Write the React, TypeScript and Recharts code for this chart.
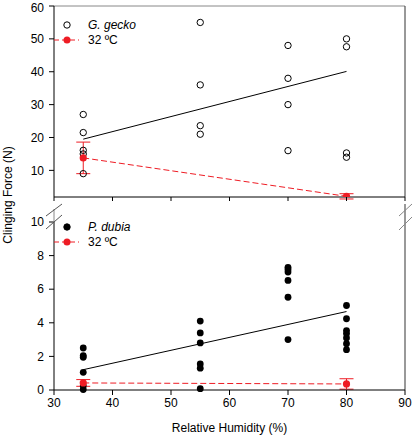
import React from "react";
import {
  ComposedChart,
  Scatter,
  Line,
  XAxis,
  YAxis,
  ErrorBar,
  ReferenceLine,
  Legend,
} from "recharts";

const FONT = '"Liberation Sans", Arial, sans-serif';
const RED = "#ee1c24";

// relative humidity levels (%)
const humidity = [35, 55, 70, 80];
const xTicks = [30, 40, 50, 60, 70, 80, 90];

// G. gecko individual clinging forces (N) per humidity level
const geckoForce = [
  [27, 21.5, 16.1, 15, 9],
  [55, 36, 23.6, 21],
  [48, 38, 30, 16],
  [50, 47.6, 15.3, 14],
];
// P. dubia individual clinging forces (N)
const dubiaForce = [
  [2.5, 2.05, 1.95, 1.05, 0.25, 0.03],
  [4.1, 3.4, 2.8, 1.55, 1.3, 0.08],
  [7.3, 7.18, 7.02, 6.52, 5.52, 3.0],
  [5.03, 4.24, 3.54, 3.36, 3.1, 2.76, 2.4],
];

// 32 ºC means with error
const warmX = [35, 80];
const geckoWarm = [13.8, 2.1];
const geckoWarmErr = [4.8, 0.8];
const dubiaWarm = [0.42, 0.36];
const dubiaWarmErr = [0.2, 0.31];

// regression lines
const fitX = [35, 80];
const geckoFit = [19.5, 40.1];
const dubiaFit = [1.21, 4.67];

const geckoTicks = [10, 20, 30, 40, 50, 60];
const dubiaTicks = [0, 2, 4, 6, 8, 10];

const flatten = (groups: number[][]) =>
  groups.flatMap((g, i) => g.map((y) => ({ x: humidity[i], y })));
const pairs = (xs: number[], ys: number[], err?: number[]) =>
  xs.map((x, i) => ({ x, y: ys[i], err: err ? err[i] : 0 }));

const TICK = { fontFamily: FONT, fontSize: 12, fill: "#000" };

function KeyBox({ label, filled }: { label: string; filled: boolean }) {
  return (
    <svg width={120} height={32} style={{ display: "block" }}>
      <circle cx={19} cy={8} r={3.2} fill={filled ? "#000" : "#fff"} stroke="#000" strokeWidth={1} />
      <text x={40} y={12} fontFamily={FONT} fontSize={12} fontStyle="italic">
        {label}
      </text>
      <line x1={6} y1={23} x2={31} y2={23} stroke={RED} strokeDasharray="5 3" />
      <circle cx={19} cy={23} r={3.5} fill={RED} />
      <text x={40} y={27} fontFamily={FONT} fontSize={12}>
        32 ºC
      </text>
    </svg>
  );
}

export default function App() {
  return (
    <div style={{ position: "relative", width: 415, height: 436, fontFamily: FONT }}>
      <style>{`body{margin:0}`}</style>

      <div style={{ position: "absolute", left: 0, top: 0 }}>
        <ComposedChart width={415} height={205} margin={{ top: 6, right: 10, bottom: 0, left: 0 }}>
          <XAxis
            type="number"
            dataKey="x"
            domain={[30, 90]}
            ticks={xTicks}
            height={8}
            tickSize={4}
            tick={() => <g />}
            axisLine={{ stroke: "#000" }}
            tickLine={{ stroke: "#000" }}
          />
          <YAxis
            type="number"
            dataKey="y"
            domain={[1.9, 60]}
            ticks={geckoTicks}
            allowDataOverflow
            width={54}
            tickSize={5}
            tickMargin={5}
            tick={TICK}
            axisLine={{ stroke: "#000" }}
            tickLine={{ stroke: "#000" }}
          />
          <ReferenceLine y={60} stroke="#888" />
          <ReferenceLine x={90} stroke="#333" />
          <Line
            data={pairs(fitX, geckoFit)}
            dataKey="y"
            stroke="#000"
            strokeWidth={1}
            dot={false}
            isAnimationActive={false}
          />
          <Scatter
            data={flatten(geckoForce)}
            dataKey="y"
            fill="#fff"
            stroke="#000"
            shape={(p: any) => <circle cx={p.cx} cy={p.cy} r={3.2} fill="none" stroke="#000" />}
            isAnimationActive={false}
          />
          <Scatter
            data={pairs(warmX, geckoWarm, geckoWarmErr)}
            dataKey="y"
            fill={RED}
            line={{ stroke: RED, strokeDasharray: "6 3", strokeWidth: 1 }}
            shape={(p: any) => <circle cx={p.cx} cy={p.cy} r={3.6} fill={RED} />}
            isAnimationActive={false}
          >
            <ErrorBar dataKey="err" direction="y" width={7} stroke={RED} strokeWidth={1} isAnimationActive={false} />
          </Scatter>
          <Legend
            layout="vertical"
            align="center"
            verticalAlign="middle"
            wrapperStyle={{ left: 48, top: 17, width: 120 }}
            content={() => <KeyBox label="G. gecko" filled={false} />}
          />
        </ComposedChart>
      </div>

      <div style={{ position: "absolute", left: 0, top: 210 }}>
        <ComposedChart width={415} height={226} margin={{ top: 12, right: 10, bottom: 0, left: 0 }}>
          <XAxis
            type="number"
            dataKey="x"
            domain={[30, 90]}
            ticks={xTicks}
            height={46}
            tickSize={5}
            tickMargin={3}
            tick={TICK}
            axisLine={{ stroke: "#000" }}
            tickLine={{ stroke: "#000" }}
            label={{
              value: "Relative Humidity (%)",
              position: "insideBottom",
              offset: 4,
              style: { fontFamily: FONT, fontSize: 12, fill: "#000" },
            }}
          />
          <YAxis
            type="number"
            dataKey="y"
            domain={[0, 10]}
            ticks={dubiaTicks}
            width={54}
            tickSize={5}
            tickMargin={5}
            tick={TICK}
            axisLine={{ stroke: "#000" }}
            tickLine={{ stroke: "#000" }}
          />
          <ReferenceLine x={90} stroke="#999" strokeWidth={2} />
          <Line
            data={pairs(fitX, dubiaFit)}
            dataKey="y"
            stroke="#000"
            strokeWidth={1}
            dot={false}
            isAnimationActive={false}
          />
          <Scatter
            data={flatten(dubiaForce)}
            dataKey="y"
            fill="#000"
            shape={(p: any) => <circle cx={p.cx} cy={p.cy} r={3.4} fill="#000" />}
            isAnimationActive={false}
          />
          <Scatter
            data={pairs(warmX, dubiaWarm, dubiaWarmErr)}
            dataKey="y"
            fill={RED}
            line={{ stroke: RED, strokeDasharray: "6 3", strokeWidth: 1 }}
            shape={(p: any) => <circle cx={p.cx} cy={p.cy} r={3.6} fill={RED} />}
            isAnimationActive={false}
          >
            <ErrorBar dataKey="err" direction="y" width={7} stroke={RED} strokeWidth={1} isAnimationActive={false} />
          </Scatter>
          <Legend
            layout="vertical"
            align="center"
            verticalAlign="middle"
            wrapperStyle={{ left: 48, top: 9, width: 120 }}
            content={() => <KeyBox label="P. dubia" filled />}
          />
        </ComposedChart>
      </div>

      {/* axis break marks and shared y label */}
      <svg
        width={415}
        height={436}
        style={{ position: "absolute", left: 0, top: 0, pointerEvents: "none" }}
      >
        <line x1={54} y1={209} x2={54} y2={222} stroke="#888" />
        <line x1={46} y1={216} x2={62} y2={204} stroke="#555" />
        <line x1={46} y1={229} x2={62} y2={215} stroke="#555" />
        <line x1={405} y1={204} x2={405} y2={222} stroke="#999" strokeWidth={2} />
        <line x1={399} y1={216} x2={412} y2={204} stroke="#888" />
        <line x1={399} y1={230} x2={412} y2={217} stroke="#888" />
        <text
          x={0}
          y={0}
          transform="translate(12,195) rotate(-90)"
          textAnchor="middle"
          fontFamily={FONT}
          fontSize={12}
        >
          Clinging Force (N)
        </text>
      </svg>
    </div>
  );
}
